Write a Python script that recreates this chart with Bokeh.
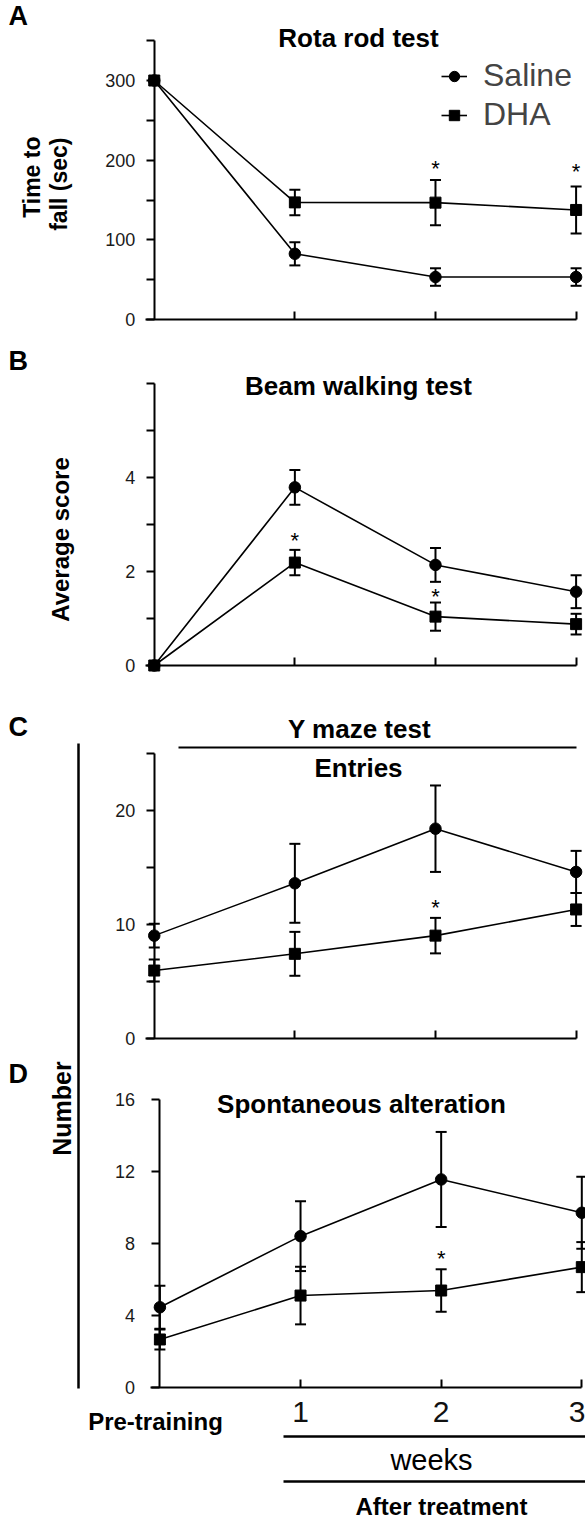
import numpy as np
from bokeh.plotting import figure
from bokeh.models import (Range1d, LinearAxis, FixedTicker, Whisker, TeeHead,
                          ColumnDataSource, Legend, LegendItem, Label)
from bokeh.core.properties import value
from bokeh.embed import file_html
from bokeh.resources import INLINE

# ---------------- data ----------------
weeks = [0, 1, 2, 3]
week_ticks = [1, 2, 3]

rota_saline = [300, 82.5, 53.3, 53.3]
rota_saline_err = [0, 14.6, 11.0, 11.0]
rota_dha = [300, 147.0, 146.7, 137.5]
rota_dha_err = [0, 16.0, 28.5, 29.6]
rota_sig_x = [2, 3]
rota_sig_y = [196, 192]
rota_ticks = [0, 100, 200, 300]
rota_minor = [50, 150, 250, 350]

beam_saline = [0, 3.79, 2.14, 1.57]
beam_saline_err = [0, 0.37, 0.36, 0.35]
beam_dha = [0, 2.19, 1.04, 0.88]
beam_dha_err = [0, 0.27, 0.30, 0.22]
beam_sig_x = [1, 2]
beam_sig_y = [2.77, 1.57]
beam_ticks = [0, 2, 4]
beam_minor = [1, 3, 5, 6]

entries_saline = [9.0, 13.6, 18.4, 14.6]
entries_saline_err = [1.05, 3.47, 3.8, 1.85]
entries_dha = [5.93, 7.4, 9.0, 11.3]
entries_dha_err = [0.97, 1.93, 1.56, 1.45]
entries_sig_x = [2]
entries_sig_y = [11.9]
entries_ticks = [0, 10, 20]
entries_minor = [5, 15, 25]

alt_saline = [4.43, 8.38, 11.53, 9.68]
alt_saline_err = [1.2, 1.94, 2.64, 2.0]
alt_dha = [2.64, 5.08, 5.36, 6.66]
alt_dha_err = [0.55, 1.6, 1.18, 1.39]
alt_sig_x = [2]
alt_sig_y = [7.4]
alt_ticks = [0, 4, 8, 12, 16]
alt_minor = []

# ---------------- layout ----------------
W, H = 585, 1521
OX, OY = 0, 0
FONT = "Liberation Sans"

p = figure(width=W, height=H, output_backend="svg", toolbar_location=None,
           x_axis_type=None, y_axis_type=None,
           x_range=Range1d(OX, OX + W), y_range=Range1d(OY + H, OY),
           min_border=0)
p.title = None
p.outline_line_color = None
p.background_fill_color = "white"
p.border_fill_color = "white"


def yrange(v0, p0, v1, p1):
    k = (p0 - p1) / (v1 - v0)
    return Range1d(v0 - (OY + H - p0) / k, v0 + (p0 - OY) / k)


def xrange(p0, p3):
    k = (p3 - p0) / 3.0
    return Range1d((OX - p0) / k, (OX + W - p0) / k)


p.extra_x_ranges["wk"] = xrange(153.75, 575.6)
p.extra_x_ranges["wkD"] = xrange(159.4, 581.3)


def panel(name, xname, yr, saline, s_err, dha, d_err, sig_x, sig_y,
          ticks, minor, top, standoff, show_x_labels=False):
    p.extra_y_ranges[name] = yr
    kw = dict(x_range_name=xname, y_range_name=name)
    ls = p.line(weeks, saline, line_color="black", line_width=1.6, **kw)
    ld = p.line(weeks, dha, line_color="black", line_width=1.6, **kw)
    for vals, err in ((saline, s_err), (dha, d_err)):
        v = np.array(vals, float)
        e = np.array(err, float)
        m = e > 0
        src = ColumnDataSource(dict(x=np.array(weeks, float)[m], up=(v + e)[m], lo=(v - e)[m]))
        p.add_layout(Whisker(source=src, base="x", upper="up", lower="lo",
                             dimension="height", line_color="black", line_width=2,
                             upper_head=TeeHead(size=11, line_width=2, line_color="black"),
                             lower_head=TeeHead(size=11, line_width=2, line_color="black"),
                             **kw))
    cs = p.scatter(weeks, saline, marker="circle", size=11.5, color="black", **kw)
    sq = p.scatter(weeks, dha, marker="square", size=11, color="black", **kw)
    p.text(sig_x, sig_y, text=["*"] * len(sig_x), text_font=value(FONT),
           text_font_size="22px", text_align="center", text_baseline="middle",
           y_offset=5, text_color="black", **kw)

    ya = LinearAxis(fixed_location=0, bounds=(0, top),
                    ticker=FixedTicker(ticks=ticks, minor_ticks=minor), **kw)
    ya.axis_line_width = 2
    ya.axis_line_color = "black"
    ya.major_tick_in = 0
    ya.major_tick_out = 8
    ya.minor_tick_in = 0
    ya.minor_tick_out = 8
    ya.major_tick_line_width = 2
    ya.minor_tick_line_width = 2
    ya.major_tick_line_color = "black"
    ya.minor_tick_line_color = "black"
    ya.major_label_text_font = FONT
    ya.major_label_text_font_size = "18px"
    ya.major_label_text_color = "#1a1a1a"
    ya.major_label_standoff = standoff
    p.add_layout(ya, "left")

    xa = LinearAxis(fixed_location=0, bounds=(-0.064, 3),
                    ticker=FixedTicker(ticks=week_ticks, minor_ticks=[]), **kw)
    xa.axis_line_width = 2
    xa.axis_line_color = "black"
    xa.major_tick_in = 8
    xa.major_tick_out = 0
    xa.major_tick_line_width = 2
    xa.major_tick_line_color = "black"
    xa.minor_tick_line_color = None
    if show_x_labels:
        xa.major_label_text_font = FONT
        xa.major_label_text_font_size = "30px"
        xa.major_label_text_color = "#111111"
        xa.major_label_standoff = 15
    else:
        xa.major_label_text_color = None
    p.add_layout(xa, "below")
    return ls, cs, ld, sq


ls, cs, ld, sq = panel("A", "wk", yrange(0, 319, 300, 80), rota_saline, rota_saline_err,
                       rota_dha, rota_dha_err, rota_sig_x, rota_sig_y,
                       rota_ticks, rota_minor, 350, 11)
panel("B", "wk", yrange(0, 665, 4, 477), beam_saline, beam_saline_err,
      beam_dha, beam_dha_err, beam_sig_x, beam_sig_y, beam_ticks, beam_minor, 6, 11)
panel("C", "wk", yrange(0, 1037.5, 20, 810), entries_saline, entries_saline_err,
      entries_dha, entries_dha_err, entries_sig_x, entries_sig_y,
      entries_ticks, entries_minor, 25, 11)
panel("D", "wkD", yrange(0, 1386.5, 16, 1098.5), alt_saline, alt_saline_err,
      alt_dha, alt_dha_err, alt_sig_x, alt_sig_y, alt_ticks, alt_minor, 16, 17,
      show_x_labels=True)

legend = Legend(items=[LegendItem(label="Saline", renderers=[ls, cs]),
                       LegendItem(label="DHA", renderers=[ld, sq])],
                location=(441, 1388), glyph_width=26, glyph_height=34,
                label_height=34, label_standoff=16, spacing=2, padding=0, margin=0,
                label_text_font=FONT, label_text_font_size="32px",
                background_fill_alpha=0, border_line_alpha=0)
p.add_layout(legend)


def label(x, y, text, size, bold=False, align="left", angle=0.0):
    # (x, y) is the visual centre line of the text
    p.add_layout(Label(x=x, y=y, text=text, text_font=FONT, text_font_size=f"{size}px",
                       text_font_style="bold" if bold else "normal",
                       text_align=align, text_baseline="middle", angle=angle,
                       text_color="black"))


# panel letters
label(8, 15, "A", 27, bold=True)
label(8, 360, "B", 27, bold=True)
label(8, 726, "C", 27, bold=True)
label(8, 1073, "D", 27, bold=True)

# titles
label(358, 37, "Rota rod test", 26, bold=True, align="center")
label(358, 385.5, "Beam walking test", 26, bold=True, align="center")
label(359, 728, "Y maze test", 26, bold=True, align="center")
label(358, 767.5, "Entries", 26, bold=True, align="center")
label(361, 1103.5, "Spontaneous alteration", 26, bold=True, align="center")

# axis titles
label(31.5, 136, "Time to", 23, bold=True, align="right", angle=np.pi / 2)
label(58, 137, "fall (sec)", 23, bold=True, align="right", angle=np.pi / 2)
label(60, 539, "Average score", 24, bold=True, align="center", angle=np.pi / 2)
label(61, 1108, "Number", 25, bold=True, align="center", angle=np.pi / 2)

# bottom annotation
label(155, 1421, "Pre-training", 24, bold=True, align="center")
label(431, 1459, "weeks", 29, align="center")
label(441, 1506, "After treatment", 24, bold=True, align="center")

# decorative rules
p.segment(x0=[178, 78, 283, 283], y0=[747, 743, 1436, 1481],
          x1=[576, 78, 585, 585], y1=[747, 1388, 1436, 1481],
          line_color="black", line_width=[2, 2.5, 2.5, 2.5])

open("out.html", "w").write(file_html(p, INLINE))
